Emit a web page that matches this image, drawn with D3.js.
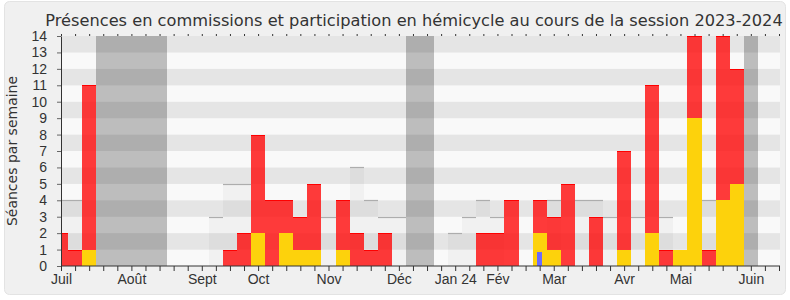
<!DOCTYPE html>
<html>
<head>
<meta charset="utf-8">
<script src="https://cdn.jsdelivr.net/npm/d3@7"></script>
<style>
body{margin:0;background:#fff}
svg{display:block;font-family:"DejaVu Sans",Verdana,sans-serif}
</style>
</head>
<body>
<svg id="chart" width="790" height="300"></svg>
<script>
// une valeur par semaine, semaine 0 = debut juillet 2023
let weeks = d3.range(0, 52)
let monthTicks = [0, 5, 10, 14, 19, 24, 28, 31, 35, 40, 44, 49]
let monthLabels = ["Juil", "Août", "Sept", "Oct", "Nov", "Déc", "Jan 24", "Fév", "Mar", "Avr", "Mai", "Juin"]
// vacances parlementaires (semaine debut, semaine fin)
let vacances = [[3, 7], [25, 26], [49, 49]]

// participation hemicycle (jaune)
let hemicycle = [0,0,1,0,0,0,0,0,0,0, 0,0,0,0,2,0,2,1,1,0, 1,0,0,0,0,0,0,0,0,0, 0,0,0,0,2,1,0,0,0,0, 1,0,2,0,1,9,0,4,5,0, 0,0]
// presences en commission (rouge, empile au dessus du jaune)
let commission = [2,1,10,0,0,0,0,0,0,0, 0,0,1,2,6,4,2,2,4,0, 3,2,1,2,0,0,0,0,0,0, 2,2,4,0,2,2,5,0,3,0, 6,0,9,1,0,5,1,10,7,0, 0,0]
// questions orales (bleu)
let questions = [0,0,0,0,0,0,0,0,0,0, 0,0,0,0,0,0,0,0,0,0, 0,0,0,0,0,0,0,0,0,0, 0,0,0,0,0.85,0,0,0,0,0, 0,0,0,0,0,0,0,0,0,0, 0,0]
// mediane des deputes (gris), null = cache derriere les barres
let mediane = [4,4,null,0,0,0,0,0,0,0, 0,3,5,5,null,null,null,null,null,3, null,6,4,3,3,0,0,0,2,3, 4,3,null,0,null,4,null,4,4,3, null,3,null,3,null,null,4,null,null,0, 0,0]

let yTicks = d3.range(0, 15)

let pLeft = 61, pRight = 780, pTop = 36, pBottom = 266

let svg = d3.select("#chart")

// cadre
svg.append("rect").attr("x", 4.5).attr("y", 1.5).attr("width", 781).attr("height", 293)
  .attr("rx", 5).attr("fill", "#f0f0f0").attr("stroke", "#e3e3e3")

let x = d3.scaleLinear().domain([0, 51]).range([pLeft, pRight - 1])
let y = d3.scaleLinear().domain([0, 14]).range([pBottom, pTop])

let bx = k => Math.round(x(k - 0.5))
let bw = k => Math.round(x(k + 0.5)) - Math.round(x(k - 0.5))

svg.append("clipPath").attr("id", "plotclip").append("rect")
  .attr("x", pLeft).attr("y", pTop).attr("width", pRight - pLeft).attr("height", pBottom - pTop)

let plot = svg.append("g").attr("clip-path", "url(#plotclip)")

// bandes horizontales
plot.selectAll(".band").data(d3.range(0, 14)).enter().append("rect")
  .attr("x", pLeft).attr("width", pRight - pLeft)
  .attr("y", d => y(d + 1)).attr("height", d => y(d) - y(d + 1))
  .attr("fill", d => d % 2 == 1 ? "#e5e5e5" : "#f9f9f9")

// vacances
plot.selectAll(".vac").data(vacances).enter().append("rect")
  .attr("x", d => bx(d[0])).attr("width", d => Math.round(x(d[1] + 0.5)) - bx(d[0]))
  .attr("y", pTop).attr("height", pBottom - pTop)
  .attr("fill", "rgba(0,0,0,0.24)")

// mediane grise
let med = weeks.filter(k => mediane[k])
plot.selectAll(".med").data(med).enter().append("rect")
  .attr("x", bx).attr("width", bw)
  .attr("y", k => Math.round(y(mediane[k]))).attr("height", k => pBottom - Math.round(y(mediane[k])))
  .attr("fill", "rgba(0,0,0,0.03)")
plot.selectAll(".medline").data(med).enter().append("line")
  .attr("x1", bx).attr("x2", k => bx(k) + bw(k))
  .attr("y1", k => Math.round(y(mediane[k])) + 0.5).attr("y2", k => Math.round(y(mediane[k])) + 0.5)
  .attr("stroke", "#adadad").attr("stroke-width", 1.2)

// hemicycle
let hem = weeks.filter(k => hemicycle[k] > 0)
plot.selectAll(".hem").data(hem).enter().append("rect")
  .attr("x", bx).attr("width", bw)
  .attr("y", k => Math.round(y(hemicycle[k]))).attr("height", k => pBottom - Math.round(y(hemicycle[k])))
  .attr("fill", "#fdd20c")

// commission
let com = weeks.filter(k => commission[k] > 0)
plot.selectAll(".com").data(com).enter().append("rect")
  .attr("x", bx).attr("width", bw)
  .attr("y", k => Math.round(y(hemicycle[k] + commission[k])))
  .attr("height", k => Math.round(y(hemicycle[k])) - Math.round(y(hemicycle[k] + commission[k])))
  .attr("fill", "rgba(255,10,10,0.8)")
plot.selectAll(".comline").data(com).enter().append("line")
  .attr("x1", bx).attr("x2", k => bx(k) + bw(k))
  .attr("y1", k => Math.round(y(hemicycle[k] + commission[k])) + 0.5)
  .attr("y2", k => Math.round(y(hemicycle[k] + commission[k])) + 0.5)
  .attr("stroke", "#f00").attr("stroke-width", 1)

// questions
plot.selectAll(".q").data(weeks.filter(k => questions[k] > 0)).enter().append("rect")
  .attr("x", k => Math.round(x(k) - 2.5)).attr("width", 5)
  .attr("y", k => y(questions[k])).attr("height", k => pBottom - y(questions[k]))
  .attr("fill", "#6b6bff")

// axes
let xAxis = d3.axisBottom(x).tickValues(weeks).tickSize(5).tickSizeOuter(0).tickPadding(3)
  .tickFormat(d => monthTicks.includes(d) ? monthLabels[monthTicks.indexOf(d)] : "")
let gx = svg.append("g").attr("transform", `translate(0,${pBottom})`).call(xAxis)
gx.select(".domain").attr("stroke", "#333").attr("d", `M${pLeft},0H${pRight}`)
gx.selectAll(".tick line").attr("stroke", "#333")
gx.selectAll("text").attr("fill", "#333").style("font-size", "14px").attr("font-family", null)

let xTop = d3.axisTop(x).tickValues(weeks).tickSize(2).tickFormat("")
let gt = svg.append("g").attr("transform", `translate(0,${pTop})`).call(xTop)
gt.select(".domain").remove()
gt.selectAll(".tick line").attr("stroke", "#333")

let yAxis = d3.axisLeft(y).tickValues(yTicks).tickSize(4).tickPadding(10).tickSizeOuter(0)
let gy = svg.append("g").attr("transform", `translate(${pLeft},0)`).call(yAxis)
gy.select(".domain").attr("stroke", "#333")
gy.selectAll(".tick line").attr("stroke", "#666")
gy.selectAll("text").attr("fill", "#333").style("font-size", "14px").attr("font-family", null)

svg.append("text").attr("transform", `translate(17,${(pTop + pBottom) / 2}) rotate(-90)`)
  .attr("text-anchor", "middle").style("font-size", "14px").attr("fill", "#333")
  .text("Séances par semaine")

// titre, ajuste a la largeur voulue
let title = svg.append("text").attr("x", 414).attr("y", 26).attr("text-anchor", "middle")
  .style("font-size", "16px").attr("fill", "#333")
  .text("Présences en commissions et participation en hémicycle au cours de la session 2023-2024")
let tl = title.node().getComputedTextLength()
title.style("font-size", (16 * 738 / tl).toFixed(2) + "px")
</script>
</body>
</html>
